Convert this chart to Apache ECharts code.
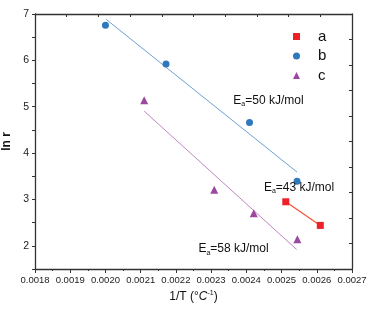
<!DOCTYPE html>
<html>
<head>
<meta charset="utf-8">
<script src="https://cdn.jsdelivr.net/npm/echarts@6/dist/echarts.min.js"></script>
<style>
  html, body { margin: 0; padding: 0; background: #fff; }
  #chart { width: 370px; height: 314px; }
</style>
</head>
<body>
<div id="chart"></div>
<script>
// measured points (1/T, ln r)
const seriesA = [[0.002512, 2.95], [0.00261, 2.44]]
const seriesB = [[0.0020, 6.76], [0.002172, 5.92], [0.002409, 4.66], [0.002544, 3.39]]
const seriesC = [[0.00211, 5.14], [0.002309, 3.21], [0.002421, 2.70], [0.002545, 2.14]]

// linear fit end points
const fitB = [[0.002002, 6.885], [0.002544, 3.59]]
const fitC = [[0.00211, 4.905], [0.002543, 1.92]]

const legendNames = ['a', 'b', 'c']

// activation energy labels: [x, y, value]
const energyLabels = [
  [0.002363, 5.14, '50'],
  [0.00245, 3.26, '43'],
  [0.002264, 1.94, '58']
]

const font = 'Liberation Sans, Arial, sans-serif'
const axisColor = '#333'

const chart = echarts.init(document.getElementById('chart'))

const option = {
  animation: false,
  textStyle: { fontFamily: font },
  grid: { left: 35, right: 18, top: 14, bottom: 45, outerBoundsMode: 'none', containLabel: false },
  legend: {
    data: legendNames.map((n, i) => ({ name: n, icon: ['rect', 'circle', 'triangle'][i] })),
    orient: 'vertical',
    left: 288,
    top: 24,
    itemWidth: 7,
    itemHeight: 7,
    itemGap: 4.5,
    textStyle: { fontSize: 15, color: '#111', padding: [0, 0, 0, 13], fontFamily: font }
  },
  xAxis: [
    {
      type: 'value',
      min: 0.0018,
      max: 0.0027,
      interval: 0.0001,
      name: '{n|1/T (°}{i|C}{sup|-1}{n|)}',
      nameLocation: 'middle',
      nameGap: 18,
      nameTextStyle: {
        rich: {
          n: { fontSize: 12, color: '#111', fontFamily: font },
          i: { fontSize: 12, color: '#111', fontStyle: 'italic', fontFamily: font },
          sup: { fontSize: 7, color: '#111', verticalAlign: 'top', padding: [0, 0, 6, 0] }
        }
      },
      axisLine: { lineStyle: { color: axisColor, width: 1.3 } },
      axisTick: { length: 4, lineStyle: { color: axisColor } },
      minorTick: { show: true, splitNumber: 2, length: 2, lineStyle: { color: axisColor } },
      axisLabel: { fontSize: 9.5, color: '#222', margin: 6, formatter: v => v.toFixed(4) },
      splitLine: { show: false }
    },
    {
      type: 'value',
      position: 'top',
      min: 0,
      max: 10,
      interval: 1,
      axisLine: { onZero: false, lineStyle: { color: axisColor, width: 1.3 } },
      axisTick: { inside: true, length: 3, lineStyle: { color: axisColor } },
      axisLabel: { show: false },
      splitLine: { show: false }
    }
  ],
  yAxis: [
    {
      type: 'value',
      min: 1.5,
      max: 7,
      interval: 0.5,
      name: 'ln r',
      nameLocation: 'middle',
      nameGap: 21,
      nameTextStyle: { fontSize: 12, fontWeight: 'bold', color: '#111' },
      axisLine: { show: true, lineStyle: { color: axisColor, width: 1.3 } },
      axisTick: { length: 3, lineStyle: { color: axisColor } },
      axisLabel: {
        fontSize: 10.5, color: '#222', margin: 6,
        formatter: v => (Number.isInteger(v) ? String(v) : '')
      },
      splitLine: { show: false }
    },
    {
      type: 'value',
      position: 'right',
      min: 0,
      max: 10,
      interval: 1,
      axisLine: { show: true, onZero: false, lineStyle: { color: axisColor, width: 1.3 } },
      axisTick: { inside: true, length: 3, lineStyle: { color: axisColor } },
      axisLabel: { show: false },
      splitLine: { show: false }
    }
  ],
  series: [
    {
      name: 'fitB',
      type: 'line',
      data: fitB,
      symbol: 'none',
      lineStyle: { color: '#6e9fd6', width: 1 },
      z: 1
    },
    {
      name: 'fitC',
      type: 'line',
      data: fitC,
      symbol: 'none',
      lineStyle: { color: '#c184c0', width: 1 },
      z: 1
    },
    {
      name: 'a',
      type: 'line',
      data: seriesA,
      symbol: 'rect',
      symbolSize: 7,
      itemStyle: { color: '#ee2028' },
      lineStyle: { color: '#f2553c', width: 1.3 },
      z: 3
    },
    {
      name: 'b',
      type: 'scatter',
      data: seriesB,
      symbol: 'circle',
      symbolSize: 7,
      itemStyle: { color: '#2e78bd', opacity: 1 },
      z: 3
    },
    {
      name: 'c',
      type: 'scatter',
      data: seriesC,
      symbol: 'triangle',
      symbolSize: 8,
      itemStyle: { color: '#9c48a0', opacity: 1 },
      z: 3
    }
  ]
}

chart.setOption(option)

// place the Ea labels at their data positions
const graphics = energyLabels.map(([x, y, val]) => {
  const p = chart.convertToPixel({ xAxisIndex: 0, yAxisIndex: 0 }, [x, y])
  return {
    type: 'text',
    x: p[0],
    y: p[1],
    z: 10,
    style: {
      text: '{e|E}{s|a}{e|=' + val + ' kJ/mol}',
      verticalAlign: 'middle',
      rich: {
        e: { fontSize: 12, fill: '#111', fontFamily: font, lineHeight: 14 },
        s: { fontSize: 7, fill: '#111', fontFamily: font, lineHeight: 14, padding: [8, 0, 0, 0] }
      }
    }
  }
})
chart.setOption({ graphic: graphics })
</script>
</body>
</html>
